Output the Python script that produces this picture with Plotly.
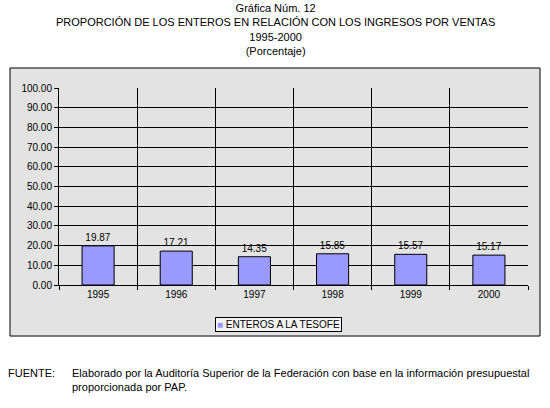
import plotly.graph_objects as go

years = ["1995", "1996", "1997", "1998", "1999", "2000"]
enteros = [19.87, 17.21, 14.35, 15.85, 15.57, 15.17]
serie = "ENTEROS A LA TESOFE"

titulo = ("Gráfica Núm. 12<br>PROPORCIÓN DE LOS ENTEROS EN RELACIÓN CON LOS INGRESOS POR VENTAS"
          "<br>1995-2000<br>(Porcentaje)")
fuente = ("Elaborado por la Auditoría Superior de la Federación con base en la información presupuestal"
          "<br>proporcionada por PAP.")

fam = "Liberation Sans, Arial, sans-serif"
font_base = dict(family=fam, size=10, color="black")
bar_color = "#9999ff"

fig = go.Figure(go.Bar(
    x=years,
    y=enteros,
    name=serie,
    marker=dict(color=bar_color, line=dict(color="black", width=1)),
    texttemplate="%{y:.2f}",
    textposition="outside",
    textfont=dict(size=10, color="black"),
    cliponaxis=False,
    showlegend=False,
))

# marco exterior del grafico
fig.add_shape(type="rect", xref="paper", yref="paper",
              x0=-0.1045, x1=1.0256, y0=-0.259, y1=1.1015,
              line=dict(color="black", width=1), fillcolor="#e3e3e3", layer="below")

# titulo
fig.add_annotation(text=titulo, xref="paper", yref="paper", x=0.462, y=1.445,
                   xanchor="center", yanchor="top", showarrow=False, align="center",
                   font=dict(family=fam, size=11))

# leyenda compacta como en el original
fig.add_annotation(text=f"<span style='color:{bar_color}'>■</span> {serie}",
                   xref="paper", yref="paper", x=0.468, y=-0.2005,
                   xanchor="center", yanchor="middle", showarrow=False,
                   bordercolor="black", borderwidth=1, borderpad=1, bgcolor="#f4f4f4",
                   font=dict(family=fam, size=10))

fig.add_annotation(text="FUENTE:", xref="paper", yref="paper", x=-0.112, y=-0.405,
                   xanchor="left", yanchor="top", showarrow=False, align="left",
                   font=dict(family=fam, size=11))
fig.add_annotation(text=fuente, xref="paper", yref="paper", x=0.024, y=-0.405,
                   xanchor="left", yanchor="top", showarrow=False, align="left",
                   font=dict(family=fam, size=11))

fig.update_layout(
    width=550, height=408,
    margin=dict(l=59, r=22, t=88, b=123, autoexpand=False),
    paper_bgcolor="white",
    plot_bgcolor="#c0c0c0",
    font=font_base,
    bargap=0.59,
    xaxis=dict(type="category", tickson="boundaries", showgrid=True, gridcolor="black",
               gridwidth=1, showline=True, linecolor="black", ticks="outside",
               ticklen=4, tickcolor="black", mirror=False),
    yaxis=dict(range=[0, 100], dtick=10, tickformat=".2f", showgrid=True,
               gridcolor="black", gridwidth=1, showline=True, linecolor="black",
               ticks="outside", ticklen=4, tickcolor="black", zeroline=False),
)

fig.write_html("out.html", config={"displayModeBar": False},
               post_script="document.body.style.margin='0';")
